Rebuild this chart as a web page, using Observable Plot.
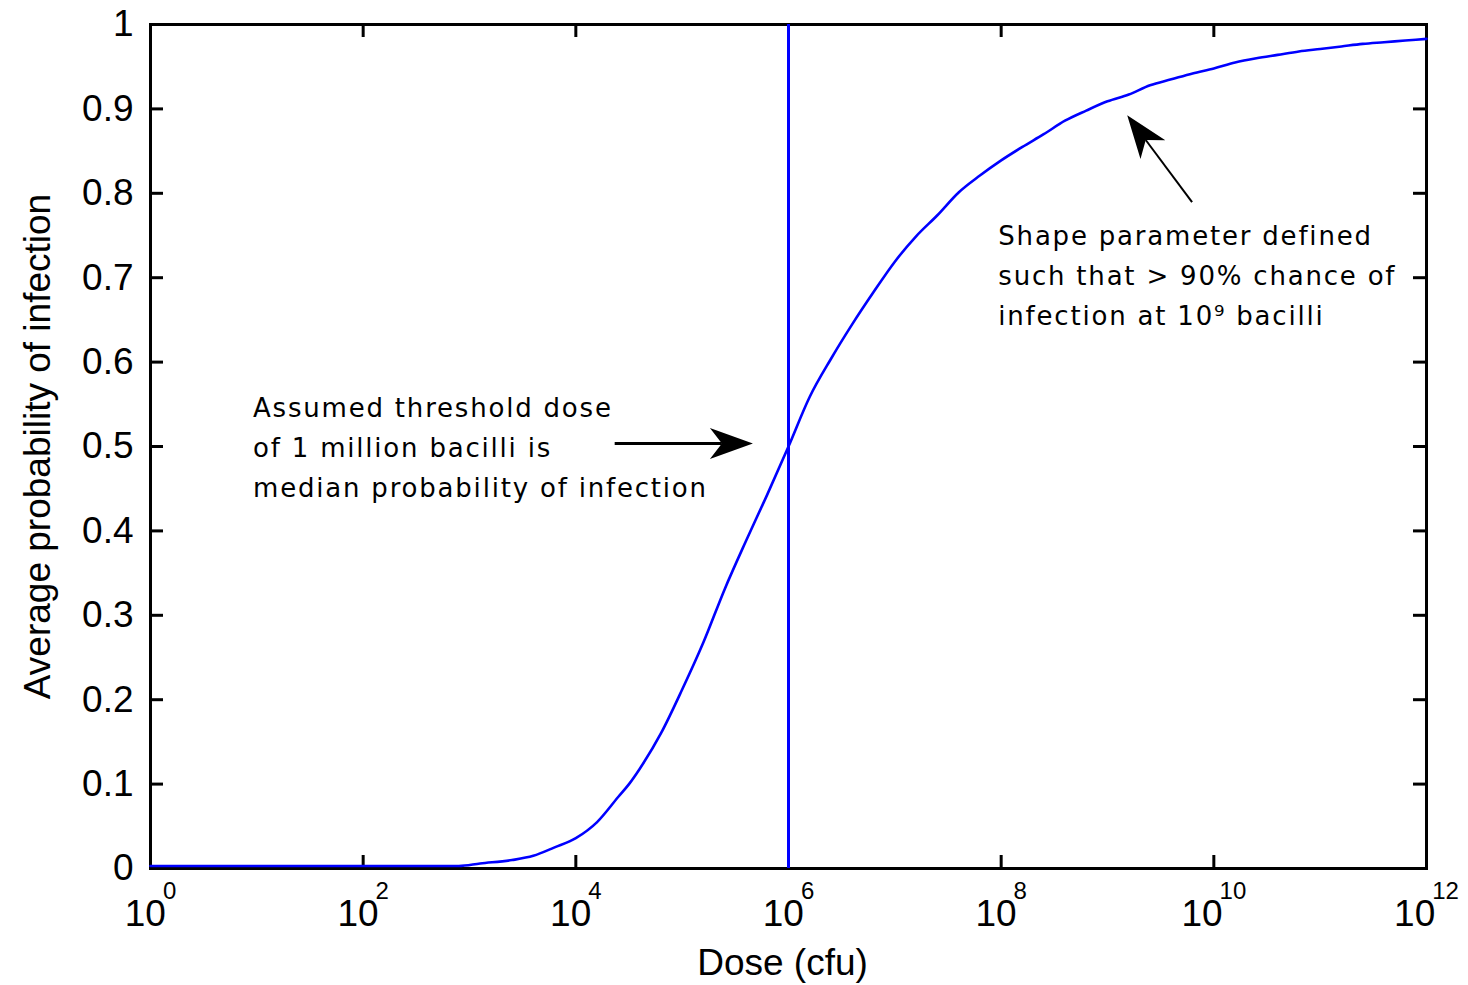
<!DOCTYPE html>
<html>
<head>
<meta charset="utf-8">
<script src="https://cdn.jsdelivr.net/npm/d3@7"></script>
<script src="https://cdn.jsdelivr.net/npm/@observablehq/plot@0.6"></script>
<style>
  body { margin: 0; background: #fff; }
  g[font-family="DejaVu Sans"] text { letter-spacing: 1.8px; }
</style>
</head>
<body>
<div id="chart"></div>
<script>
// ---- data ----
// dose exponents (log10 of dose in cfu) and average probability of infection
const doseExponent = [0, 1, 2, 2.9, 3.1, 3.4, 3.6, 3.8, 4.0, 4.2, 4.4, 4.5, 4.6, 4.8, 5.0, 5.2, 5.4, 5.6, 5.8, 6.0,
  6.2, 6.4, 6.6, 6.8, 7.0, 7.2, 7.4, 7.6, 7.8, 8.0, 8.2, 8.4, 8.6, 8.8, 9.0, 9.2, 9.4, 9.6, 9.8, 10.0,
  10.2, 10.4, 10.6, 10.8, 11.0, 11.2, 11.4, 11.6, 11.8, 12.0];
const probability = [0.003, 0.003, 0.003, 0.003, 0.006, 0.010, 0.015, 0.025, 0.036, 0.055, 0.085, 0.100, 0.118, 0.160, 0.212, 0.268, 0.331, 0.388, 0.443, 0.500,
  0.559, 0.604, 0.645, 0.683, 0.719, 0.749, 0.774, 0.801, 0.821, 0.839, 0.855, 0.870, 0.886, 0.898, 0.909, 0.917, 0.928, 0.935, 0.942, 0.948,
  0.955, 0.960, 0.964, 0.968, 0.971, 0.974, 0.977, 0.979, 0.981, 0.983];

const xTickExponents = [0, 2, 4, 6, 8, 10, 12];
const yTicks = [0, 0.1, 0.2, 0.3, 0.4, 0.5, 0.6, 0.7, 0.8, 0.9, 1];
const thresholdDose = [1e6];

const xLabel = "Dose (cfu)";
const yLabel = "Average probability of infection";

const noteTexts = [
  "Assumed threshold dose\nof 1 million bacilli is\nmedian probability of infection",
  "Shape parameter defined\nsuch that > 90% chance of\ninfection at 10⁹ bacilli"
];
const noteDoseExponent = [0.964, 7.973];
const noteProbability = [0.569, 0.773];

const arrowFromExponent = [4.37, 9.80];
const arrowFromProbability = [0.503, 0.789];
const arrowToExponent = [5.67, 9.19];
const arrowToProbability = [0.503, 0.892];

// ---- tables built from the arrays ----
const curve = doseExponent.map((e, i) => ({dose: 10 ** e, p: probability[i]}));
const xTicks = xTickExponents.map(e => 10 ** e);
const notes = noteTexts.map((t, i) => ({text: t, dose: 10 ** noteDoseExponent[i], p: noteProbability[i]}));
const arrows = arrowFromExponent.map((e, i) => ({
  x1: 10 ** e, y1: arrowFromProbability[i], x2: 10 ** arrowToExponent[i], y2: arrowToProbability[i]
}));
const shaftWidths = [3, 2];

const blue = "#0000ff";
const W = 1276, H = 844, tick = 13;

function arrowMark(index, scales) {
  const g = d3.create("svg:g").attr("fill", "black").attr("stroke", "black");
  arrows.forEach((a, i) => {
    const x1 = scales.x(a.x1), y1 = scales.y(a.y1), x2 = scales.x(a.x2), y2 = scales.y(a.y2);
    const dx = x2 - x1, dy = y2 - y1, len = Math.hypot(dx, dy);
    const ux = dx / len, uy = dy / len, nx = -uy, ny = ux;
    const L = 43, HW = 15.5, N = 12;
    const bx = x2 - ux * L, by = y2 - uy * L;
    const kx = x2 - ux * (L - N), ky = y2 - uy * (L - N);
    g.append("line").attr("x1", x1).attr("y1", y1).attr("x2", kx).attr("y2", ky)
      .attr("stroke-width", shaftWidths[i]);
    g.append("path")
      .attr("d", `M${x2},${y2}L${bx + nx * HW},${by + ny * HW}L${kx},${ky}L${bx - nx * HW},${by - ny * HW}Z`)
      .attr("stroke", "none");
  });
  return g.node();
}

const svg = Plot.plot({
  width: 1468,
  height: 985,
  marginLeft: 150,
  marginRight: 42,
  marginTop: 24,
  marginBottom: 117,
  style: {background: "white", color: "black", fontFamily: "'Liberation Sans', Arial, sans-serif", fontSize: "37px"},
  x: {type: "log", domain: [1, 1e12], ticks: xTicks, tickSize: 0, tickPadding: 31,
      tickFormat: d => "10^" + Math.round(Math.log10(d)), label: null},
  y: {domain: [0, 1], ticks: yTicks, tickSize: 0, tickPadding: 17,
      tickFormat: d => d3.format("~g")(d), label: null},
  marks: [
    Plot.ruleX(xTicks, {x: d => d, insetTop: H - tick, stroke: "black", strokeWidth: 3}),
    Plot.ruleX(xTicks, {x: d => d, insetBottom: H - tick, stroke: "black", strokeWidth: 3}),
    Plot.ruleY(yTicks, {y: d => d, insetRight: W - tick, stroke: "black", strokeWidth: 3}),
    Plot.ruleY(yTicks, {y: d => d, insetLeft: W - tick, stroke: "black", strokeWidth: 3}),
    Plot.frame({stroke: "black", strokeWidth: 3}),
    Plot.line(curve, {x: "dose", y: "p", stroke: blue, strokeWidth: 2.6, curve: "monotone-x"}),
    Plot.ruleX(thresholdDose, {x: d => d, stroke: blue, strokeWidth: 3}),
    Plot.text(notes, {x: "dose", y: "p", text: "text", textAnchor: "start", lineAnchor: "top",
      lineHeight: 1.54, fontSize: 26, fontFamily: "DejaVu Sans", fill: "black"}),
    Plot.text([xLabel], {text: d => d, frameAnchor: "bottom", lineAnchor: "middle", textAnchor: "middle",
      dx: -6, dy: 95, fontSize: 37, fill: "black"}),
    Plot.text([yLabel], {text: d => d, frameAnchor: "left", textAnchor: "middle", lineAnchor: "middle",
      dx: -112, rotate: -90, fontSize: 37, fill: "black"}),
    arrowMark
  ]
});

// superscript exponents on the x tick labels
d3.select(svg).selectAll("text").each(function () {
  const m = /^10\^(\d+)$/.exec(this.textContent);
  if (m) {
    this.textContent = "10";
    d3.select(this).append("tspan").attr("dx", -3).attr("dy", -27).attr("font-size", 24).text(m[1]);
  }
});

document.getElementById("chart").appendChild(svg);
</script>
</body>
</html>
